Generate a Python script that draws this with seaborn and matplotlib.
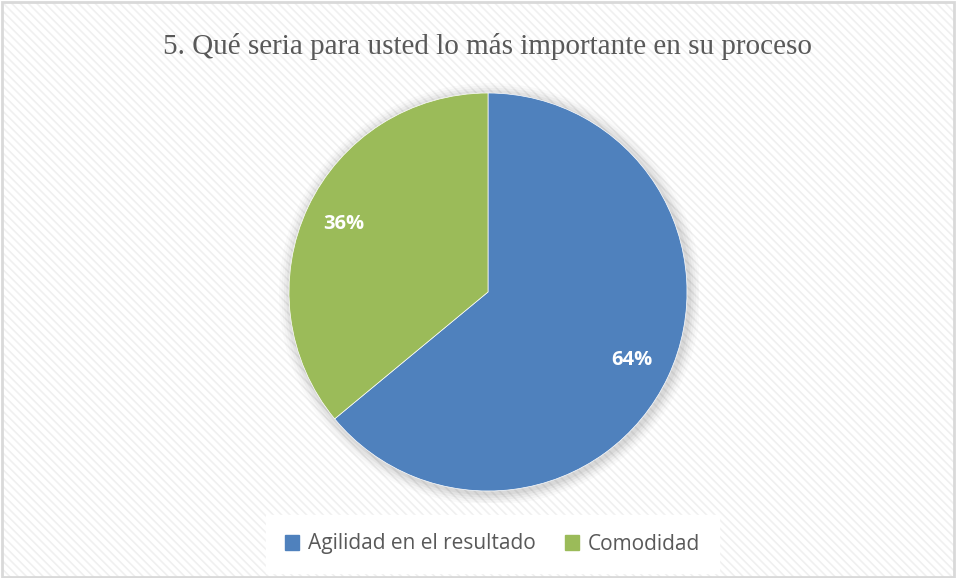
import matplotlib
matplotlib.use("Agg")
import matplotlib.pyplot as plt
import matplotlib.patches as mpatches
import seaborn as sns

# Données
categories = ["Agilidad en el resultado", "Comodidad"]
values = [64, 36]
colors = ["#4f81bd", "#9bbb59"]
title = "5. Qué seria para usted lo más importante en su proceso"

sns.set_theme(style="white")
plt.rcParams['font.family'] = ['Open Sans', 'DejaVu Sans']
plt.rcParams['hatch.linewidth'] = 1.2

W, H = 956, 578
fig = plt.figure(figsize=(W / 100, H / 100), dpi=100)
fig.patch.set_facecolor("white")

# fond rayé + bordure
bg = mpatches.Rectangle((0.002, 0.002), 0.996, 0.994, transform=fig.transFigure,
                        facecolor="white", edgecolor="#f0f0f0", hatch="\\\\\\\\",
                        linewidth=0, zorder=-10)
fig.patches.append(bg)
border = mpatches.Rectangle((0.002, 0.002), 0.996, 0.994, transform=fig.transFigure,
                            facecolor="none", edgecolor="#d9d9d9", linewidth=2, zorder=10)
fig.patches.append(border)

# camembert
cx, cy, r = 488, 292, 199
ax = fig.add_axes([(cx - r * 1.06) / W, (H - cy - r * 1.06) / H, 2 * r * 1.06 / W, 2 * r * 1.06 / H])
ax.set_facecolor("none")
ax.set_zorder(1)

# ombre douce
for i, a in enumerate([0.04, 0.035, 0.03, 0.025, 0.02]):
    ax.add_patch(mpatches.Circle((0.01, -0.01), 1.0 + 0.012 * (i + 1),
                                 facecolor="#000000", alpha=a, linewidth=0, zorder=0))

wedges, texts, autotexts = ax.pie(values, colors=colors, startangle=90, counterclock=False,
                                  autopct="%1.0f%%", pctdistance=0.8, radius=1.0,
                                  wedgeprops=dict(linewidth=0.5, edgecolor="white"))
for t in autotexts:
    t.set_color("white")
    t.set_fontsize(14.5)
    t.set_fontweight("bold")
ax.set_xlim(-1.06, 1.06)
ax.set_ylim(-1.06, 1.06)
ax.set_aspect("equal")
ax.axis("off")

fig.text(0.51, 1 - 47 / H, title, ha="center", va="center", fontsize=21,
         family=["Liberation Serif", "DejaVu Serif"], color="#595959")

handles = [mpatches.Patch(color=c, label=l) for c, l in zip(colors, categories)]
leg = fig.legend(handles=handles, loc="center", bbox_to_anchor=(0.515, 1 - 544 / H),
                 ncol=2, frameon=True, fontsize=15, handlelength=0.7, handleheight=0.7,
                 handletextpad=0.4, columnspacing=1.4, borderpad=0.3)
leg.get_frame().set_facecolor("white")
leg.get_frame().set_edgecolor("white")
leg.get_frame().set_alpha(1)
leg.get_frame().set_boxstyle("square", pad=0.6)
for t in leg.get_texts():
    t.set_color("#595959")

plt.savefig("out.png", dpi=100)
